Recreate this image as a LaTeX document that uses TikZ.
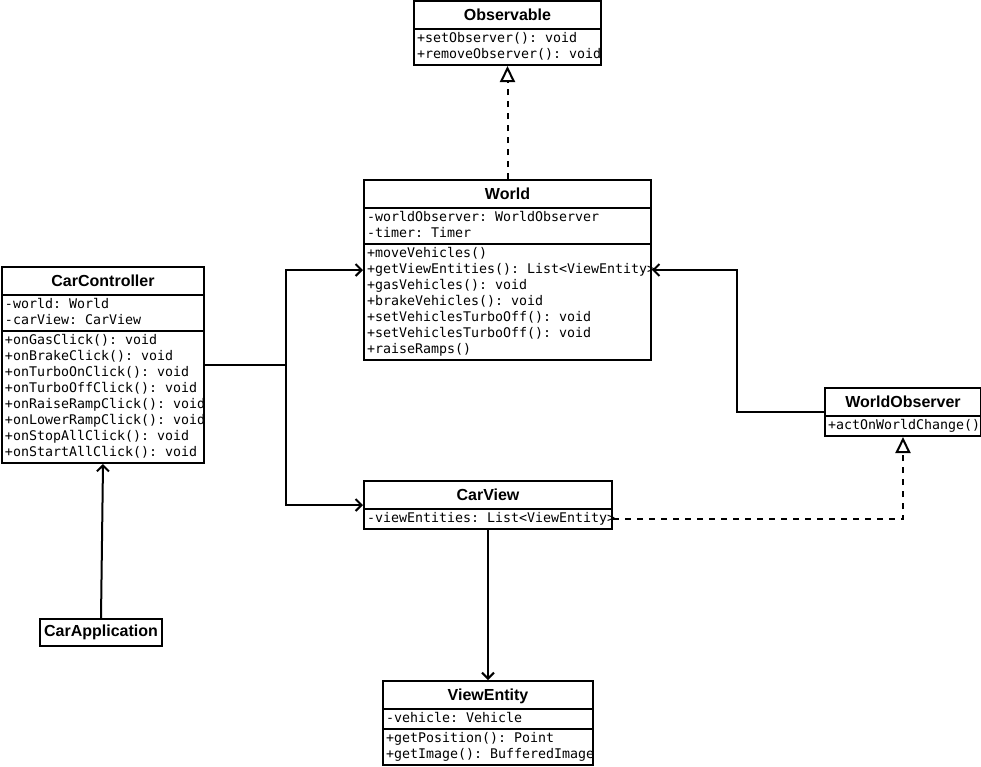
\documentclass[tikz,border=0pt]{standalone}
\usepackage{fontspec}
\setsansfont{Liberation Sans}
\setmonofont{DejaVu Sans Mono}
\usetikzlibrary{shapes.multipart, arrows.meta, positioning}

\newcommand{\tfont}{\sffamily\bfseries\fontsize{16}{18}\selectfont}
\newcommand{\ctitle}[2]{\makebox[#1][c]{\rule[-7pt]{0pt}{24pt}\tfont #2}}
\newcommand{\mlines}[1]{\begin{tabular}{@{}l@{}}#1\end{tabular}}
\newcommand{\ml}[1]{\makebox[0pt][l]{#1}}

\tikzstyle{umlclass} = [rectangle split, rectangle split parts=3, rectangle split part align={center,left,left}, draw=black, line width=2pt, inner xsep=3pt, inner ysep=1pt, font=\ttfamily\fontsize{13.3}{16}\selectfont]
\tikzstyle{umlbox} = [rectangle, draw=black, line width=2pt, minimum width=122pt, minimum height=27pt, inner sep=0pt, font=\tfont]
\tikzstyle{assoc} = [line width=2pt, -{Straight Barb[length=6pt,width=12pt]}]
\tikzstyle{realize} = [line width=2pt, dash pattern=on 6pt off 6pt, -{Triangle[open,length=16pt,width=15pt]}]

\begin{document}
\begin{tikzpicture}[x=1pt, y=-1pt]

\path [use as bounding box, fill=white] (0,0) rectangle (981,766);

% Classes
\node (world) [umlclass, anchor=north west] at (363,179)
  {\ctitle{281pt}{World}
   \nodepart{second}\mlines{\ml{-worldObserver: WorldObserver}\\\ml{-timer: Timer}}
   \nodepart{third}\mlines{\ml{+moveVehicles()}\\\ml{+getViewEntities(): List<ViewEntity>}\\\ml{+gasVehicles(): void}\\\ml{+brakeVehicles(): void}\\\ml{+setVehiclesTurboOff(): void}\\\ml{+setVehiclesTurboOff(): void}\\\ml{+raiseRamps()}}};
\node (observable) [umlclass, rectangle split parts=2, above=113pt of world]
  {\ctitle{181pt}{Observable}
   \nodepart{second}\mlines{\ml{+setObserver(): void}\\\ml{+removeObserver(): void}}};
\node (carview) [umlclass, rectangle split parts=2, below=119pt of world.south west, anchor=north west]
  {\ctitle{242pt}{CarView}
   \nodepart{second}\mlines{\ml{-viewEntities: List<ViewEntity>}}};
\node (viewentity) [umlclass, below=150pt of carview]
  {\ctitle{204pt}{ViewEntity}
   \nodepart{second}\mlines{\ml{-vehicle: Vehicle}}
   \nodepart{third}\mlines{\ml{+getPosition(): Point}\\\ml{+getImage(): BufferedImage}}};
\node (carcontroller) [umlclass, anchor=north west] at (1,266)
  {\ctitle{196pt}{CarController}
   \nodepart{second}\mlines{\ml{-world: World}\\\ml{-carView: CarView}}
   \nodepart{third}\mlines{\ml{+onGasClick(): void}\\\ml{+onBrakeClick(): void}\\\ml{+onTurboOnClick(): void}\\\ml{+onTurboOffClick(): void}\\\ml{+onRaiseRampClick(): void}\\\ml{+onLowerRampClick(): void}\\\ml{+onStopAllClick(): void}\\\ml{+onStartAllClick(): void}}};
\node (worldobserver) [umlclass, rectangle split parts=2, anchor=north west] at (824,387)
  {\ctitle{150pt}{WorldObserver}
   \nodepart{second}\mlines{\ml{+actOnWorldChange()}}};
\node (carapplication) [umlbox, below=154pt of carcontroller, xshift=-2pt] {CarApplication};

% Arrows
\draw [realize] (world.north) -- (observable.south);
\draw [assoc] (carcontroller.east) -- ++(81,0) |- (world.west);
\draw [assoc] (carcontroller.east) -- ++(81,0) |- (carview.west);
\draw [assoc] (worldobserver.west) -- ++(-87,0) |- (world.east);
\draw [realize] ([yshift=11pt]carview.south east) -| (worldobserver.south);
\draw [assoc] (carview.south) -- (viewentity.north);
\draw [assoc] (carapplication.north) -- (carcontroller.south);

\end{tikzpicture}
\end{document}
